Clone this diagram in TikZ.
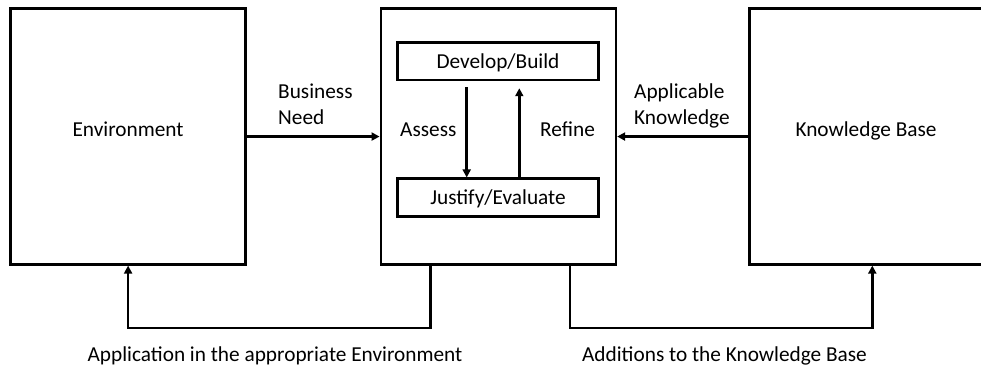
\documentclass[tikz,border=0pt]{standalone}
\usepackage{fontspec}
\setmainfont{Carlito}
\usetikzlibrary{arrows.meta,calc}
\begin{document}
\begin{tikzpicture}[x=1pt,y=-1pt,
  thick line/.style={line width=2.6pt},
  bigbox/.style={draw,thick line,minimum width=235pt,minimum height=255.5pt,inner sep=0pt},
  stepbox/.style={draw,thick line,minimum width=201.3pt,minimum height=37.5pt,inner sep=0pt},
  txt/.style={font=\fontsize{21.3}{26}\selectfont,inner sep=0pt},
  arr/.style={thick line,-{Triangle[length=8pt,width=8pt]}},
  link/.style={thick line}]
\useasboundingbox (0,0) rectangle (981,366);
\begin{scope}
\clip (0,0) rectangle (981,366);
% outer boxes
\node[bigbox] (env) at (128.1,136.55) {};
\node[bigbox] (mid) at (498.35,136.55) {};
\node[bigbox] (kb) at (866.9,136.55) {};
% inner cycle boxes
\node[stepbox] (db) at (498,61.2) {};
\node[stepbox] (je) at (498,197.5) {};
\end{scope}
% box captions
\node[txt,anchor=base] (envt) at (128.1,136.7) {Environment};
\node[txt,anchor=base] (kbt) at (866,136.7) {Knowledge Base};
\node[txt,anchor=base] (dbt) at (498,68.3) {Develop/Build};
\node[txt,anchor=base] (jet) at (498,204) {Justify/Evaluate};
% inner cycle
\draw[arr] ($(db.south)+(-31.3,6)$) -- ($(je.north)+(-31.3,0)$);
\draw[arr] ($(je.north)+(21.3,0)$) -- ($(db.south)+(21.3,7)$);
\node[txt,anchor=base west] (assess) at (400,136.7) {Assess};
\node[txt,anchor=base west] (refine) at (540,136.7) {Refine};
% inputs to the middle box
\draw[arr] (env.east) -- (mid.west);
\draw[arr] (kb.west) -- (mid.east);
\node[txt,anchor=base west,align=left] (need) at (278,125) {Business\\Need};
\node[txt,anchor=base west,align=left] (know) at (634,125) {Applicable\\Knowledge};
% feedback paths
\coordinate (lb) at ($(mid.south)+(-68,0)$);
\coordinate (rb) at ($(mid.south)+(71.7,0)$);
\draw[arr] (lb) -- ++(0,62.4) -| (env.south);
\draw[arr] (rb) -- ++(0,62.4) -| ($(kb.south)+(5.4,0)$);
\node[txt,anchor=base] (app) at (275,361.7) {Application in the appropriate Environment};
\node[txt,anchor=base] (add) at (724.5,361.7) {Additions to the Knowledge Base};
\end{tikzpicture}
\end{document}
